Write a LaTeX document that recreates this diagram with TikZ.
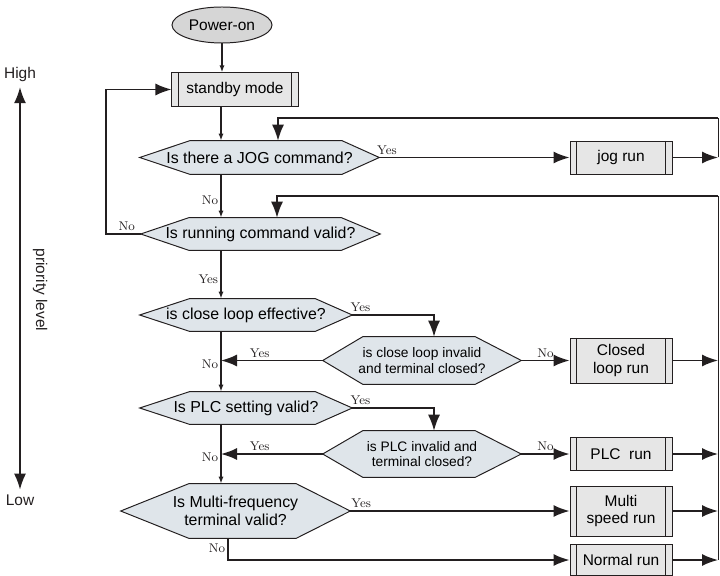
\documentclass[tikz,border=0pt]{standalone}
\usepackage{fontspec}
\setsansfont{Liberation Sans}
\usepackage{xcolor}
\usepackage{tikz}
\usetikzlibrary{positioning, shapes.geometric, arrows.meta, calc, backgrounds}
\definecolor{ink}{HTML}{231f20}
\definecolor{boxgray}{HTML}{e6e6e6}
\definecolor{ovalgray}{HTML}{d6d6d6}
\definecolor{hexblue}{HTML}{dfe5ea}

\begin{document}
\begin{tikzpicture}[x=0.025cm, y=-0.025cm,
  terminal/.style={
    ellipse, draw=ink, fill=ovalgray, line width=0.7pt, inner sep=0pt,
    minimum width=2.5cm, minimum height=0.9cm,
    font=\sffamily\fontsize{11}{12.5}\selectfont
  },
  process/.style={
    draw=ink, fill=boxgray, line width=0.7pt, inner sep=0pt,
    minimum width=2.55cm, align=center,
    font=\sffamily\fontsize{11}{12.5}\selectfont,
    path picture={\draw[ink, line width=0.7pt]
      ([xshift=0.17cm]path picture bounding box.north west) -- ([xshift=0.17cm]path picture bounding box.south west)
      ([xshift=-0.17cm]path picture bounding box.north east) -- ([xshift=-0.17cm]path picture bounding box.south east);}
  },
  decision/.style={inner sep=0pt, align=center, font=\sffamily\fontsize{11.3}{12.5}\selectfont},
  small decision/.style={decision, font=\sffamily\fontsize{9.8}{10.8}\selectfont},
  hexline/.style={draw=ink, fill=hexblue, line width=0.7pt},
  flow/.style={ink, line width=1.1pt},
  arrow/.style={flow, -{Latex[length=0.4cm, width=0.3cm]}},
  small arrow/.style={flow, -{Latex[length=0.18cm, width=0.13cm]}},
  answer/.style={font=\fontsize{9}{10}\selectfont, text=ink, inner sep=1.5pt},
  bus/.style={ink, line width=0.6pt},
  side/.style={font=\sffamily\fontsize{11}{12}\selectfont, text=ink}
]
\useasboundingbox (0,0) rectangle (720,576);

% priority scale
\node[side] (high) at (20,75) {High};
\node[side] (low) at (20,500) {Low};
\node[side, rotate=-90] (prio) at (40,290) {priority level};
\draw[flow, {Latex[length=0.4cm, width=0.3cm]}-{Latex[length=0.4cm, width=0.3cm]}] (high) -- (low);

% blocks
\node[terminal] (power) at (222,25) {Power-on};
\node[process, minimum width=3.15cm, minimum height=0.825cm] (standby) at (235,89.5) {standby mode};
\node[decision, minimum width=5.975cm, minimum height=0.825cm] (jog) at (259.5,157.5) {Is there a JOG command?};
\node[process, minimum height=0.825cm] (jogrun) at (621,157.5) {jog run};
\node[decision, minimum width=5.975cm, minimum height=0.8cm] (running) at (260.5,234) {Is running command valid?};
\node[decision, minimum width=5.3cm, minimum height=0.8cm] (loopeff) at (246,315) {is close loop effective?};
\node[small decision, minimum width=4.95cm, minimum height=1.175cm] (loopinv) at (422,360.5) {is close loop invalid\\and terminal closed?};
\node[process, minimum height=1.125cm] (closedrun) at (621,360.5) {Closed\\loop run};
\node[decision, minimum width=5.3cm, minimum height=0.8cm] (plc) at (246,408) {Is PLC setting valid?};
\node[small decision, minimum width=4.95cm, minimum height=1.15cm] (plcinv) at (422,454) {is PLC invalid and\\terminal closed?};
\node[process, minimum height=0.825cm] (plcrun) at (621,454) {PLC~ run};
\node[decision, minimum width=5.725cm, minimum height=1.35cm] (multi) at (235.5,511) {Is Multi-frequency\\terminal valid?};
\node[process, minimum height=1.25cm] (multirun) at (621,511) {Multi\\speed run};
\node[process, minimum height=0.775cm] (normalrun) at (621,560) {Normal run};

% hexagon outlines behind the decisions
\begin{scope}[on background layer]
  \foreach \n/\l/\r in {jog/1.25/0.93, running/1.2/0.97, loopeff/1.24/0.92, loopinv/1.0/1.15,
                        plc/1.24/0.92, plcinv/1.0/1.15, multi/1.7/1.35}
    \draw[hexline] (\n.west) -- ([xshift=\l cm]\n.north west) -- ([xshift=-\r cm]\n.north east)
      -- (\n.east) -- ([xshift=-\r cm]\n.south east) -- ([xshift=\l cm]\n.south west) -- cycle;
\end{scope}

\coordinate (col) at (221,0);
\coordinate (back) at (106,0);
\coordinate (drop) at (434,0);
\coordinate (nobr) at (228,0);
\coordinate (top1) at (718,118);
\coordinate (turn1) at (278,118);
\coordinate (top2) at (718,196);
\coordinate (turn2) at (277,196);

% main column
\draw[small arrow] (power.south) -- (power.south |- standby.north);
\draw[small arrow] (standby.south -| col) -- (jog.north -| col);
\draw[small arrow] (jog.south -| col) -- node[answer, left, pos=0.6] {No} (running.north -| col);
\draw[small arrow] (running.south -| col) -- node[answer, left, pos=0.6] {Yes} (loopeff.north -| col);
\draw[small arrow] (loopeff.south -| col) -- node[answer, left, pos=0.55] {No} (plc.north -| col);
\draw[small arrow] (plc.south -| col) -- node[answer, left, pos=0.55] {No} (multi.north -| col);
\draw[arrow] (running.west) -- node[answer, above, pos=0.4] {No} (running.west -| back) |- (standby.west);

% jog branch
\draw[arrow] (jog.east) -- node[answer, above, pos=0.04] {Yes} (jogrun.west);
\draw[arrow] (jogrun.east) -- (jogrun -| top1);
\draw[bus] (jogrun -| top1) -- (top1);
\draw[arrow] (top1) -- (turn1) -- (turn1 |- jog.north);

% return to running check
\draw[arrow] (top2) -- (turn2) -- (turn2 |- running.north);
\draw[bus] (top2) -- (normalrun -| top2);

% close loop
\draw[arrow] (loopeff.east) -- node[answer, above, pos=0.1] {Yes} (loopeff.east -| drop) -- (loopinv.north -| drop);
\draw[arrow] (loopinv.west) -- node[answer, above, pos=0.62] {Yes} (loopinv.west -| col);
\draw[arrow] (loopinv.east) -- node[answer, above] {No} (closedrun.west);

% PLC
\draw[arrow] (plc.east) -- node[answer, above, pos=0.1] {Yes} (plc.east -| drop) -- (plcinv.north -| drop);
\draw[arrow] (plcinv.west) -- node[answer, above, pos=0.62] {Yes} (plcinv.west -| col);
\draw[arrow] (plcinv.east) -- node[answer, above] {No} (plcrun.west);

% multi speed / normal
\draw[arrow] (multi.east) -- node[answer, above, pos=0.05] {Yes} (multirun.west);
\draw[arrow] (multi.south -| nobr) |- node[answer, left, pos=0.22] {No} (normalrun.west);

\foreach \b in {closedrun, plcrun, multirun, normalrun}
  \draw[arrow] (\b.east) -- (\b -| top2);

\end{tikzpicture}
\end{document}
